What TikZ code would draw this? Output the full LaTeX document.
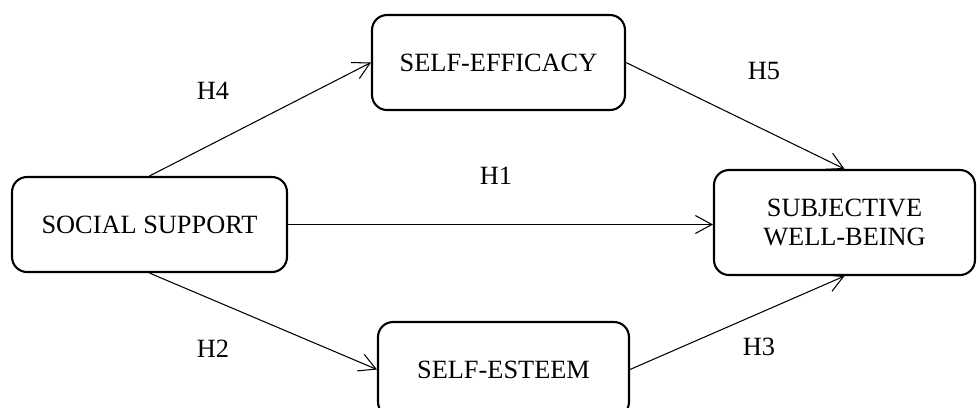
\documentclass[tikz,border=0pt]{standalone}
\usepackage{fontspec}
\setmainfont{Liberation Serif}
\usetikzlibrary{arrows.meta}

\begin{document}
\begin{tikzpicture}[x=0.02cm, y=-0.02cm,
        >={Straight Barb[length=3.3mm,width=3.6mm]},
        every node/.style={font=\fontsize{15}{17}\selectfont}]
        \tikzstyle{boxStyle} = [draw=black, line width=1.2pt, rounded corners=0.3cm,
                                align=center, inner sep=0pt, minimum height=1.9cm]
        \tikzstyle{arrowEdge} = [draw=black, line width=0.6pt]
        \useasboundingbox (0,0) rectangle (978,407);
        \node[boxStyle, minimum width=5.5cm] (social) at (149.5,224.5) {SOCIAL SUPPORT};
        \node[boxStyle, minimum width=5.06cm] (efficacy) at (498.5,62.5) {SELF-EFFICACY};
        \node[boxStyle, minimum width=5.02cm] (esteem) at (503.5,369.5) {SELF-ESTEEM};
        \node[boxStyle, minimum width=5.22cm, minimum height=2.1cm] (swb) at (844.5,222.5)
            {SUBJECTIVE\\ WELL-BEING};
        \node (h4) at (213,91) {H4};
        \node (h5) at (764,71) {H5};
        \node (h1) at (496,176) {H1};
        \node (h2) at (213,349) {H2};
        \node (h3) at (759,347) {H3};
        \foreach \from/\to in {social.north/efficacy.west, social.south/esteem.west,
                               efficacy.east/swb.north, esteem.east/swb.south}
            \path[arrowEdge] (\from) edge[->] (\to);
        \path[arrowEdge] (social.east) edge[->] (social.east -| swb.west);
    \end{tikzpicture}
\end{document}
